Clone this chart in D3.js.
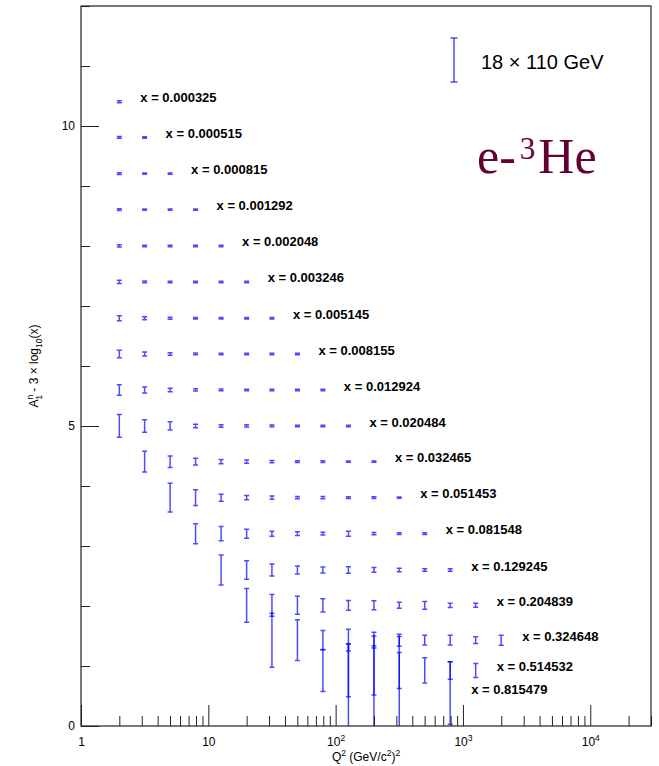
<!DOCTYPE html>
<html>
<head>
<meta charset="utf-8">
<script src="https://cdn.jsdelivr.net/npm/d3@7"></script>
<style>
  body { margin: 0; background: #fff; }
  svg { display: block; font-family: "Liberation Sans", Arial, sans-serif; }
</style>
</head>
<body>
<div id="chart"></div>
<script>
// Bjorken-x bins (one row each)
var xBins = [0.000325, 0.000515, 0.000815, 0.001292, 0.002048, 0.003246, 0.005145, 0.008155,
  0.012924, 0.020484, 0.032465, 0.051453, 0.081548, 0.129245, 0.204839, 0.324648, 0.514532, 0.815479];
var xLabels = ["0.000325", "0.000515", "0.000815", "0.001292", "0.002048", "0.003246", "0.005145", "0.008155",
  "0.012924", "0.020484", "0.032465", "0.051453", "0.081548", "0.129245", "0.204839", "0.324648", "0.514532", "0.815479"];

// Q2 bin centres (GeV^2)
var q2Bins = [2, 3.16, 5.01, 7.94, 12.6, 20, 31.6, 50.1, 79.4, 126, 200, 316, 501, 794, 1259, 1995];

// central A1n value per x row
var a1Values = [-0.06, -0.055, -0.06, -0.06, -0.065, -0.065, -0.07, -0.065, -0.065, -0.065,
  -0.06, -0.06, -0.06, -0.065, -0.055, -0.035, 0.06, 0.285];

// first Q2 bin (index) used by each row
var firstBin = [0, 0, 0, 0, 0, 0, 0, 0, 0, 0, 1, 2, 3, 4, 5, 6, 8, 9];

// statistical errors, one per Q2 bin starting at firstBin (null = no point)
var errors = [
  [0.015],
  [0.015, 0.012],
  [0.015, 0.012, 0.012],
  [0.015, 0.012, 0.012, 0.012],
  [0.018, 0.012, 0.012, 0.012, 0.012],
  [0.028, 0.015, 0.012, 0.012, 0.012, 0.012],
  [0.04, 0.025, 0.015, 0.012, 0.012, 0.012, 0.012],
  [0.062, 0.033, 0.02, 0.015, 0.012, 0.012, 0.012, 0.012],
  [0.087, 0.05, 0.028, 0.018, 0.015, 0.012, 0.012, 0.012, 0.012],
  [0.19, 0.105, 0.068, 0.028, 0.022, 0.018, 0.015, 0.012, 0.012, 0.012],
  [0.172, 0.096, 0.055, 0.037, 0.028, 0.02, 0.016, 0.013, 0.012, 0.012],
  [0.24, 0.13, 0.058, 0.035, 0.027, 0.02, 0.018, 0.015, 0.013, 0.012],
  [0.167, 0.12, 0.075, 0.042, 0.03, 0.022, 0.042, 0.02, 0.015, 0.015],
  [0.25, 0.153, 0.1, 0.067, 0.05, 0.055, 0.04, 0.03, 0.022, 0.022],
  [0.28, 0.18, 0.15, 0.11, 0.08, 0.075, 0.05, 0.063, 0.035, 0.033],
  [0.45, 0.34, 0.16, 0.18, 0.13, 0.1, 0.08, 0.08, 0.055, 0.083],
  [0.35, 0.44, 0.41, 0.3, 0.21, 0.147, 0.117],
  [0.82, 0.95, 0.94, null, 0.52]
];

var yTicksMajor = [0, 5, 10];
var xTicksMajor = [1, 10, 100, 1000, 10000];
var legendText = "18 \u00d7 110 GeV";

////////////////////////////////////////////////////////////////////////////////
const W = 659, H = 766;
const margin = { top: 6, right: 8, bottom: 40, left: 81 };

const svg = d3.select("#chart").append("svg")
  .attr("width", W).attr("height", H);

const x = d3.scaleLog().domain([1, 30000]).range([margin.left, W - margin.right]);
const y = d3.scaleLinear().domain([0, 12]).range([H - margin.bottom, margin.top]);

// build points
var points = [];
xBins.forEach((xb, r) => {
  var off = -3 * Math.log10(xb);
  errors[r].forEach((e, i) => {
    if (e == null) return;
    points.push({ row: r, q2: q2Bins[firstBin[r] + i], v: a1Values[r] + off, e: e });
  });
});

svg.append("clipPath").attr("id", "frame")
  .append("rect")
  .attr("x", x.range()[0]).attr("y", y.range()[1])
  .attr("width", x.range()[1] - x.range()[0])
  .attr("height", y.range()[0] - y.range()[1]);

// error bars
const cap = 2.5;
svg.append("g").attr("clip-path", "url(#frame)")
  .selectAll("path")
  .data(points)
  .join("path")
  .attr("d", d => {
    var px = x(d.q2), t = y(d.v + d.e), b = y(d.v - d.e);
    return `M${px - cap},${t}H${px + cap}M${px},${t}V${b}M${px - cap},${b}H${px + cap}`;
  })
  .attr("fill", "none")
  .attr("stroke", "#0000ff")
  .attr("stroke-opacity", 0.7)
  .attr("stroke-width", 1.5);

// row labels
svg.append("g")
  .selectAll("text")
  .data(xBins)
  .join("text")
  .attr("x", (d, r) => {
    var n = errors[r].length;
    return x(q2Bins[firstBin[r] + n - 1]) + 21;
  })
  .attr("y", (d, r) => y(a1Values[r] - 3 * Math.log10(d)) - 4)
  .attr("dy", "0.35em")
  .attr("font-size", 13)
  .attr("font-weight", "bold")
  .text((d, r) => "x = " + xLabels[r]);

// frame
svg.append("rect")
  .attr("x", x.range()[0]).attr("y", y.range()[1])
  .attr("width", x.range()[1] - x.range()[0])
  .attr("height", y.range()[0] - y.range()[1])
  .attr("fill", "none").attr("stroke", "#222").attr("stroke-width", 1.2);

// Y axis
var yMinor = d3.range(0, 13).filter(v => yTicksMajor.indexOf(v) < 0);
svg.append("g")
  .attr("transform", `translate(${margin.left},0)`)
  .call(d3.axisLeft(y).tickValues(yMinor).tickSize(-9).tickFormat(""))
  .call(g => g.select(".domain").remove());
svg.append("g")
  .attr("transform", `translate(${margin.left},0)`)
  .call(d3.axisLeft(y).tickValues(yTicksMajor).tickSize(-18).tickPadding(6))
  .call(g => g.select(".domain").remove())
  .call(g => g.selectAll("text").attr("font-size", 12).attr("font-family", "Liberation Sans, Arial, sans-serif"));

// X axis
var xMinor = [];
xTicksMajor.forEach(d => { for (var k = 2; k <= 9; k++) if (d * k <= 30000) xMinor.push(d * k); });
svg.append("g")
  .attr("transform", `translate(0,${y(0)})`)
  .call(d3.axisBottom(x).tickValues(xMinor).tickSize(-10).tickFormat(""))
  .call(g => g.select(".domain").remove());
svg.append("g")
  .attr("transform", `translate(0,${y(0)})`)
  .call(d3.axisBottom(x).tickValues(xTicksMajor).tickSize(-21).tickPadding(11).tickFormat(""))
  .call(g => g.select(".domain").remove())
  .call(g => g.selectAll(".tick text").each(function (d) {
    var t = d3.select(this).attr("font-size", 12).attr("font-family", "Liberation Sans, Arial, sans-serif");
    var p = Math.round(Math.log10(d));
    if (p <= 1) { t.text(d); return; }
    t.append("tspan").text("10");
    t.append("tspan").attr("dy", -5).attr("font-size", 8.5).text(p);
  }));
svg.selectAll(".tick line").attr("stroke", "#222");

// axis titles
var xt = svg.append("text")
  .attr("x", (x.range()[0] + x.range()[1]) / 2).attr("y", 761)
  .attr("text-anchor", "middle").attr("font-size", 12);
xt.append("tspan").text("Q");
xt.append("tspan").attr("dy", -5).attr("font-size", 8.5).text("2");
xt.append("tspan").attr("dy", 5).text(" (GeV/c");
xt.append("tspan").attr("dy", -5).attr("font-size", 8.5).text("2");
xt.append("tspan").attr("dy", 5).text(")");
xt.append("tspan").attr("dy", -5).attr("font-size", 8.5).text("2");

var yt = svg.append("text")
  .attr("transform", `translate(38,${(y.range()[0] + y.range()[1]) / 2}) rotate(-90)`)
  .attr("text-anchor", "middle").attr("font-size", 12);
yt.append("tspan").text("A");
yt.append("tspan").attr("dy", -5).attr("font-size", 8.5).text("n");
yt.append("tspan").attr("dx", -5).attr("dy", 9).attr("font-size", 8.5).text("1");
yt.append("tspan").attr("dy", -4).text(" - 3 \u00d7 log");
yt.append("tspan").attr("dy", 4).attr("font-size", 8.5).text("10");
yt.append("tspan").attr("dy", -4).text("(x)");

// legend
var lg = svg.append("g").attr("transform", "translate(454,60)");
lg.append("path")
  .attr("d", "M-3.5,-22H3.5M0,-22V22M-3.5,22H3.5")
  .attr("fill", "none").attr("stroke", "#0000ff").attr("stroke-opacity", 0.7).attr("stroke-width", 1.5);
lg.append("text").attr("x", 27).attr("y", 9).attr("font-size", 20).text(legendText);

// nucleus label
var nl = svg.append("text")
  .attr("x", 477).attr("y", 173)
  .attr("font-family", "Liberation Serif, Times New Roman, serif")
  .attr("font-size", 50).attr("fill", "#660033");
nl.append("tspan").text("e-");
nl.append("tspan").attr("dy", -14).attr("dx", 4).attr("font-size", 31).text("3");
nl.append("tspan").attr("dy", 14).attr("dx", 3).text("He");
</script>
</body>
</html>
